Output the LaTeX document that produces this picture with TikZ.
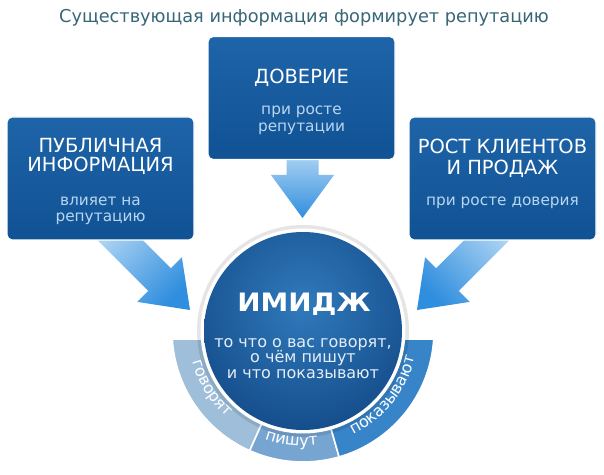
\documentclass[tikz,border=0pt]{standalone}
\usepackage{fontspec}
\setmainfont{DejaVu Sans}
\usetikzlibrary{decorations.text}
\definecolor{titlecol}{RGB}{55,102,118}
\definecolor{boxtop}{RGB}{30,100,168}
\definecolor{boxbot}{RGB}{16,82,148}
\definecolor{subcol}{RGB}{185,214,240}
\definecolor{arrlight}{RGB}{190,221,246}
\definecolor{arrdark}{RGB}{48,142,222}
\definecolor{ballin}{RGB}{48,122,188}
\definecolor{ballout}{RGB}{12,62,122}
\definecolor{balltext}{RGB}{228,238,248}
\definecolor{segA}{RGB}{158,190,218}
\definecolor{segB}{RGB}{118,165,210}
\definecolor{segC}{RGB}{55,132,200}
\newcommand\ringfont{\fontsize{12}{14}\selectfont}
\tikzset{
  bluebox/.style={rounded corners=4pt, top color=boxtop, bottom color=boxbot, draw=white, line width=0.8pt, minimum width=140.25pt, minimum height=92.25pt, inner sep=0pt},
  headtxt/.style={text=white, font=\fontsize{14.6}{16}\selectfont, anchor=base, inner sep=0pt},
  subtxt/.style={text=subcol, font=\fontsize{11.5}{13}\selectfont, anchor=base, inner sep=0pt},
  balltxt/.style={text=balltext, font=\fontsize{12}{14}\selectfont, anchor=base, inner sep=0pt},
  bigarrow/.style={top color=arrlight, bottom color=arrdark},
  seg/.style={draw=white, line width=1.2pt},
  ringlabel/.style={decorate, decoration={text along path, text align=center, text color=white, text={|\ringfont|#1}}},
}
\begin{document}
\begin{tikzpicture}[x=0.75pt,y=0.75pt]
\useasboundingbox (0,0) rectangle (604,475);
\fill[white] (0,0) rectangle (604,475);
\node[font=\fontsize{13.3}{15}\selectfont, text=titlecol, anchor=base, inner sep=0pt] (title) at (304,452) {Существующая информация формирует репутацию};

% arrows
\coordinate (tipL) at (190,165);
\coordinate (tipC) at (302.5,257);
\coordinate (tipR) at (417,165);
\shade[bigarrow, shading angle=45] (109.4,268.2) -- (170.9,206.7) -- (181.9,217.7) -- (tipL) -- (137.3,173.1) -- (148.3,184.1) -- (86.8,245.6) -- cycle;
\shade[bigarrow, shading angle=-45] (497.6,268.2) -- (436.1,206.7) -- (425.1,217.7) -- (tipR) -- (469.7,173.1) -- (458.7,184.1) -- (520.2,245.6) -- cycle;
\shade[bigarrow] (286.5,330) -- (286.5,300) -- (271,300) -- (tipC) -- (334,300) -- (318.5,300) -- (318.5,330) -- cycle;

% boxes
\node[bluebox] (boxL) at (100.5,296.5) {};
\node[bluebox] (boxC) at (301.5,377) {};
\node[bluebox] (boxR) at (502.5,296.5) {};

\node[headtxt] (tL1) at (100.5,322) {ПУБЛИЧНАЯ};
\node[headtxt] (tL2) at (100.5,303) {ИНФОРМАЦИЯ};
\node[subtxt] (sL1) at (100.5,269) {влияет на};
\node[subtxt] (sL2) at (100.5,253) {репутацию};
\node[headtxt] (tC1) at (301.5,391) {ДОВЕРИЕ};
\node[subtxt] (sC1) at (301.5,360) {при росте};
\node[subtxt] (sC2) at (301.5,343) {репутации};
\node[headtxt] (tR1) at (502.5,321) {РОСТ КЛИЕНТОВ};
\node[headtxt] (tR2) at (502.5,300) {И ПРОДАЖ};
\node[subtxt] (sR1) at (502.5,269) {при росте доверия};

% ring
\coordinate (cen) at (303,144);
\filldraw[seg, fill=segA] ([shift={(183.5:131)}]cen) arc[start angle=183.5, end angle=246, radius=131] -- ([shift={(246:88)}]cen) arc[start angle=246, end angle=185.2, radius=88] -- cycle;
\filldraw[seg, fill=segB] ([shift={(246:131)}]cen) arc[start angle=246, end angle=286, radius=131] -- ([shift={(286:88)}]cen) arc[start angle=286, end angle=246, radius=88] -- cycle;
\filldraw[seg, fill=segC] ([shift={(286:131)}]cen) arc[start angle=286, end angle=356.5, radius=131] -- ([shift={(354.8:88)}]cen) arc[start angle=354.8, end angle=286, radius=88] -- cycle;
\path[ringlabel=говорят] ([shift={(185:115)}]cen) arc[start angle=185, end angle=239, radius=115];
\path[ringlabel=пишут] ([shift={(246:115)}]cen) arc[start angle=246, end angle=282, radius=115];
\path[ringlabel=показывают] ([shift={(290:115)}]cen) arc[start angle=290, end angle=353, radius=115];

% ball
\fill[black, opacity=0.10] (cen) circle (106);
\fill[white] (cen) circle (102.5);
\node[circle, minimum size=148.5pt, inner sep=0pt, path picture={\shade[inner color=ballin, outer color=ballout] ([yshift=19.5pt]path picture bounding box.center) circle (170);}] (ball) at (cen) {};
\node[font=\bfseries\fontsize{19}{21}\selectfont, text=white, anchor=base, inner sep=0pt] (imidzh) at (304,163) {\scalebox{1.1}[1]{ИМИДЖ}};
\node[balltxt] (b1) at (303,127) {то что о вас говорят,};
\node[balltxt] (b2) at (303,112) {о чём пишут};
\node[balltxt] (b3) at (303,96) {и что показывают};
\end{tikzpicture}
\end{document}
